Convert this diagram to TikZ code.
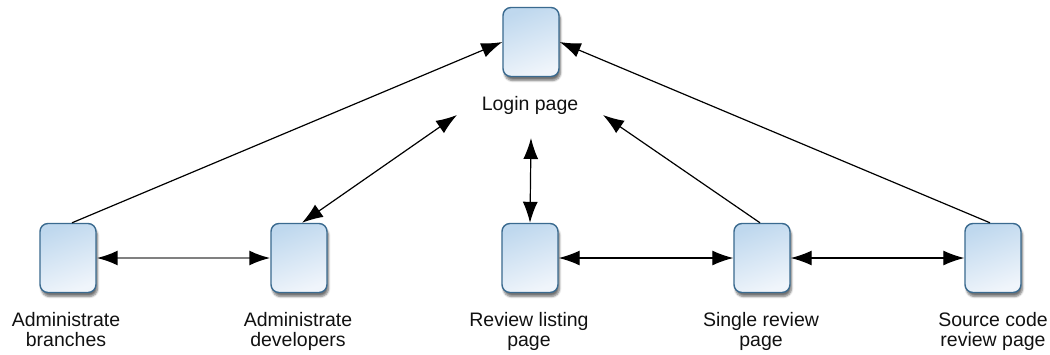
\documentclass[tikz,border=0pt]{standalone}
\usepackage{fontspec}
\setmainfont{Liberation Sans}
\usetikzlibrary{arrows.meta,shadows.blur}
\definecolor{boxborder}{HTML}{3A6A8F}
\definecolor{boxtop}{HTML}{BFD8EE}
\definecolor{boxbot}{HTML}{F0F5FB}
\definecolor{txt}{HTML}{111111}
\begin{document}
\begin{tikzpicture}[x=1pt,y=-1pt,
  page/.style={draw=boxborder, line width=1.4pt, rounded corners=8pt,
    minimum width=56pt, minimum height=69pt, inner sep=0pt,
    top color=boxtop, bottom color=boxbot, shading angle=20,
    blur shadow={shadow xshift=1.5pt, shadow yshift=-4pt, shadow blur steps=6, shadow opacity=55}},
  lbl/.style={font=\fontsize{19.5}{20.5}\selectfont, text=txt, align=center, inner sep=0pt},
  conn/.style={line width=1.2pt, arrows={-Latex[length=21pt,width=15pt]}},
  biconn/.style={line width=1.2pt, arrows={Latex[length=21pt,width=15pt]-Latex[length=21pt,width=15pt]}},
  grayconn/.style={line width=2pt, draw=black!50,
    arrows={Latex[length=21pt,width=15pt,color=black]-Latex[length=21pt,width=15pt,color=black]}}
]
\useasboundingbox (0,0) rectangle (1050,354);

\node[page] (login) at (531,42) {};
\node[lbl, anchor=base] (loginlbl) at (530,110) {Login page};

\node[page] (ab) at (68,258) {};
\node[page] (ad) at (299,258) {};
\node[page] (rl) at (530,258) {};
\node[page] (sr) at (762,258) {};
\node[page] (sc) at (993,258) {};

\node[lbl, anchor=north] (abl) at (66,312) {Administrate\\branches};
\node[lbl, anchor=north] (adl) at (298,312) {Administrate\\developers};
\node[lbl, anchor=north] (rll) at (529,312) {Review listing\\page};
\node[lbl, anchor=north] (srl) at (761,312) {Single review\\page};
\node[lbl, anchor=north] (scl) at (993,312) {Source code\\review page};

\coordinate (la) at (457,115);
\coordinate (lb) at (531,138);
\coordinate (lc) at (603,115);

\draw[conn] (ab.north) ++(4,0) coordinate (abt) -- (login.west);
\draw[conn] (sc.north) ++(-3,0) coordinate (sct) -- (login.east);
\draw[biconn] (ad.north) ++(3,0) coordinate (adt) -- (la);
\draw[conn] (sr.north) ++(-2,0) coordinate (srt) -- (lc);
\draw[biconn] (lb) -- (rl.north);

\draw[grayconn] (ab.east) -- (ad.west);
\draw[biconn] (rl.east) -- (sr.west);
\draw[biconn] (sr.east) -- (sc.west);
\end{tikzpicture}
\end{document}
